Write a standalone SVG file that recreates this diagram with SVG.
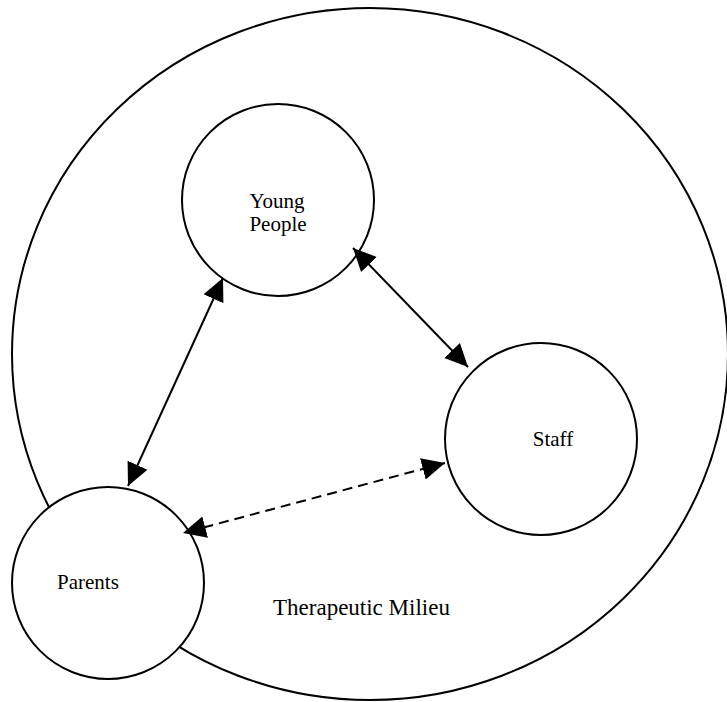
<svg xmlns="http://www.w3.org/2000/svg" width="727" height="702" viewBox="0 0 727 702">
<style>
.node{fill:#fff;stroke:#000;stroke-width:2}
.lbl{font-family:"Liberation Serif","Times New Roman",serif;font-size:21px;fill:#000}
.edge{stroke:#000;stroke-width:2;fill:none;marker-start:url(#ah);marker-end:url(#ah)}
.dash{stroke-dasharray:10 6}
</style>
<defs>
<marker id="ah" markerUnits="userSpaceOnUse" markerWidth="24" markerHeight="24" viewBox="0 0 22 20" refX="21" refY="10" orient="auto-start-reverse">
<path d="M0,0 L21,10 L0,20 Z" fill="#000"/>
</marker>
</defs>
<g id="milieu">
<ellipse cx="370" cy="354" rx="358" ry="346" fill="none" stroke="#000" stroke-width="2"/>
<text class="lbl" x="273" y="615" style="font-size:23px">Therapeutic Milieu</text>
</g>
<g id="young-people">
<circle class="node" cx="278" cy="200" r="96"/>
<text class="lbl" x="277" y="208" text-anchor="middle">Young</text>
<text class="lbl" x="278" y="231" text-anchor="middle">People</text>
</g>
<g id="staff">
<circle class="node" cx="541" cy="439" r="96"/>
<text class="lbl" x="553" y="446" text-anchor="middle">Staff</text>
</g>
<g id="parents">
<circle class="node" cx="108" cy="583" r="96"/>
<text class="lbl" x="57" y="589">Parents</text>
</g>
<g id="connectors">
<line class="edge" x1="223" y1="278" x2="128" y2="486"/>
<line class="edge" x1="353" y1="248" x2="468" y2="367"/>
<line class="edge dash" x1="445" y1="463" x2="183" y2="533"/>
</g>
</svg>
